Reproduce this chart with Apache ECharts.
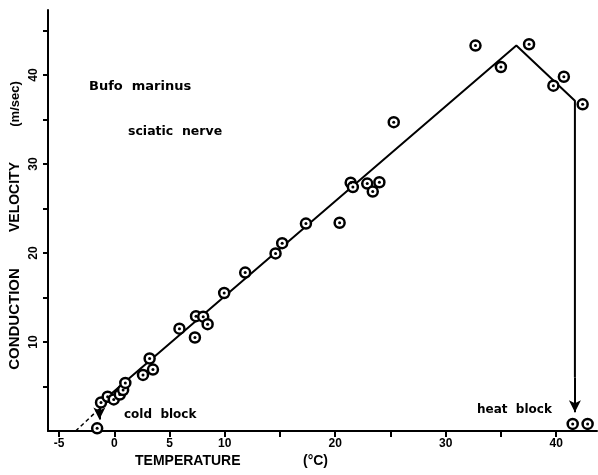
<!DOCTYPE html>
<html>
<head>
<meta charset="utf-8">
<script src="https://cdn.jsdelivr.net/npm/echarts@6/dist/echarts.min.js"></script>
<style>
	html, body { margin: 0; padding: 0; background: #fff; }
	#chart { width: 598px; height: 475px; }
</style>
</head>
<body>
<div id="chart"></div>
<script>
	// measured points (temperature degC, conduction velocity m/sec)
	var temps = [-1.2, -0.6, -0.05, 0.5, 0.8, 1.0, 2.6, 3.5, 3.2, 5.9, 7.3, 7.4, 8.05, 8.45, 9.95, 11.85, 14.6, 15.2, 17.35, 20.4, 21.4, 21.6, 22.9, 23.4, 24.0, 25.3, 32.7, 35.0, 37.55, 39.75, 40.7, 42.4]
	var velocities = [3.2, 3.85, 3.55, 4.1, 4.6, 5.4, 6.3, 6.9, 8.15, 11.5, 10.5, 12.9, 12.85, 12.0, 15.5, 17.8, 19.95, 21.1, 23.3, 23.4, 27.9, 27.4, 27.8, 26.9, 27.95, 34.7, 43.3, 40.9, 43.45, 38.8, 39.8, 36.7]
	// conduction block points
	var blockTemps = [-1.55, 41.5, 42.85]
	var blockVelocities = [0.3, 0.8, 0.8]
	// fitted line
	var fitTemps = [-1.3, 36.4, 41.7, 41.7]
	var fitVelocities = [3.1, 43.3, 37.1, 6]
	// dashed extrapolation to cold block
	var coldTemps = [-3.5, -1.35]
	var coldVelocities = [0, 2.5]

	var xTicks = [-5, 0, 5, 10, 15, 20, 25, 30, 35, 40]
	var xLabels = [-5, 0, 5, 10, 20, 30, 40]
	var yTicks = [5, 10, 15, 20, 25, 30, 35, 40, 45]
	var yLabels = [10, 20, 30, 40]

	var pts = []
	for (var i = 0; i < temps.length; i++) pts.push([temps[i], velocities[i]])
	for (var i = 0; i < blockTemps.length; i++) pts.push([blockTemps[i], blockVelocities[i]])
	var fit = []
	for (var i = 0; i < fitTemps.length; i++) fit.push([fitTemps[i], fitVelocities[i]])
	var cold = []
	for (var i = 0; i < coldTemps.length; i++) cold.push([coldTemps[i], coldVelocities[i]])

	var chart = echarts.init(document.getElementById('chart'))
	var boldFont = '"Liberation Sans", Arial, sans-serif'
	var wideFont = '"DejaVu Sans", sans-serif'

	chart.setOption({
		animation: false,
		grid: { left: 48, right: 1, top: 10, bottom: 44 },
		xAxis: {
			type: 'value',
			min: -6,
			max: 43.7,
			axisLine: { onZero: false, lineStyle: { color: '#000', width: 2 } },
			axisTick: { customValues: xTicks, length: 6, lineStyle: { color: '#000', width: 2 } },
			axisLabel: { customValues: xLabels, margin: 7, color: '#000', fontFamily: boldFont, fontWeight: 'bold', fontSize: 12 },
			splitLine: { show: false }
		},
		yAxis: {
			type: 'value',
			min: 0,
			max: 47.3,
			axisLine: { onZero: false, lineStyle: { color: '#000', width: 2 } },
			axisTick: { customValues: yTicks, length: 5, lineStyle: { color: '#000', width: 2 } },
			axisLabel: { customValues: yLabels, rotate: 90, margin: 8, color: '#000', fontFamily: boldFont, fontWeight: 'bold', fontSize: 12 },
			splitLine: { show: false }
		},
		series: [{
				type: 'line',
				data: fit,
				symbol: 'none',
				lineStyle: { color: '#000', width: 2 },
				z: 2,
				markLine: {
					silent: true,
					symbol: ['none', 'arrow'],
					symbolSize: [9, 12],
					label: { show: false },
					lineStyle: { color: '#000', width: 2, type: 'solid' },
					data: [
						[{ coord: [41.7, 6] }, { coord: [41.7, 2.1] }],
						[{ coord: [-1.35, 2.7] }, { coord: [-1.35, 1.3] }]
					]
				}
			},
			{
				type: 'line',
				data: cold,
				symbol: 'none',
				lineStyle: { color: '#000', width: 1.5, type: [4, 3] },
				z: 2
			},
			{
				type: 'scatter', // rings
				data: pts,
				symbol: 'circle',
				symbolSize: 10,
				itemStyle: { color: '#fff', borderColor: '#000', borderWidth: 2.5, opacity: 1 },
				z: 5
			},
			{
				type: 'scatter', // centre dots
				data: pts,
				symbol: 'circle',
				symbolSize: 3,
				itemStyle: { color: '#000', opacity: 1 },
				z: 6
			}
		],
		graphic: [
			{ type: 'text', left: 89, top: 80, style: { text: 'Bufo  marinus', font: 'bold 13px ' + wideFont, fill: '#000' } },
			{ type: 'text', left: 128, top: 125, style: { text: 'sciatic  nerve', font: 'bold 12.5px ' + wideFont, fill: '#000' } },
			{ type: 'text', left: 124, top: 409, style: { text: 'cold  block', font: 'bold 12px ' + wideFont, fill: '#000' } },
			{ type: 'text', left: 477, top: 404, style: { text: 'heat  block', font: 'bold 12px ' + wideFont, fill: '#000' } },
			{ type: 'text', left: 135, top: 454, style: { text: 'TEMPERATURE', font: 'bold 14px ' + boldFont, fill: '#000' } },
			{ type: 'text', left: 303, top: 454, style: { text: '(°C)', font: 'bold 14px ' + boldFont, fill: '#000' } },
			{ type: 'text', x: 15, y: 319, rotation: Math.PI / 2, style: { text: 'CONDUCTION', font: 'bold 15px ' + boldFont, fill: '#000', textAlign: 'center', textVerticalAlign: 'middle' } },
			{ type: 'text', x: 15, y: 197, rotation: Math.PI / 2, style: { text: 'VELOCITY', font: 'bold 14px ' + boldFont, fill: '#000', textAlign: 'center', textVerticalAlign: 'middle' } },
			{ type: 'text', x: 15, y: 104, rotation: Math.PI / 2, style: { text: '(m/sec)', font: 'bold 13px ' + boldFont, fill: '#000', textAlign: 'center', textVerticalAlign: 'middle' } }
		]
	})
</script>
</body>
</html>
